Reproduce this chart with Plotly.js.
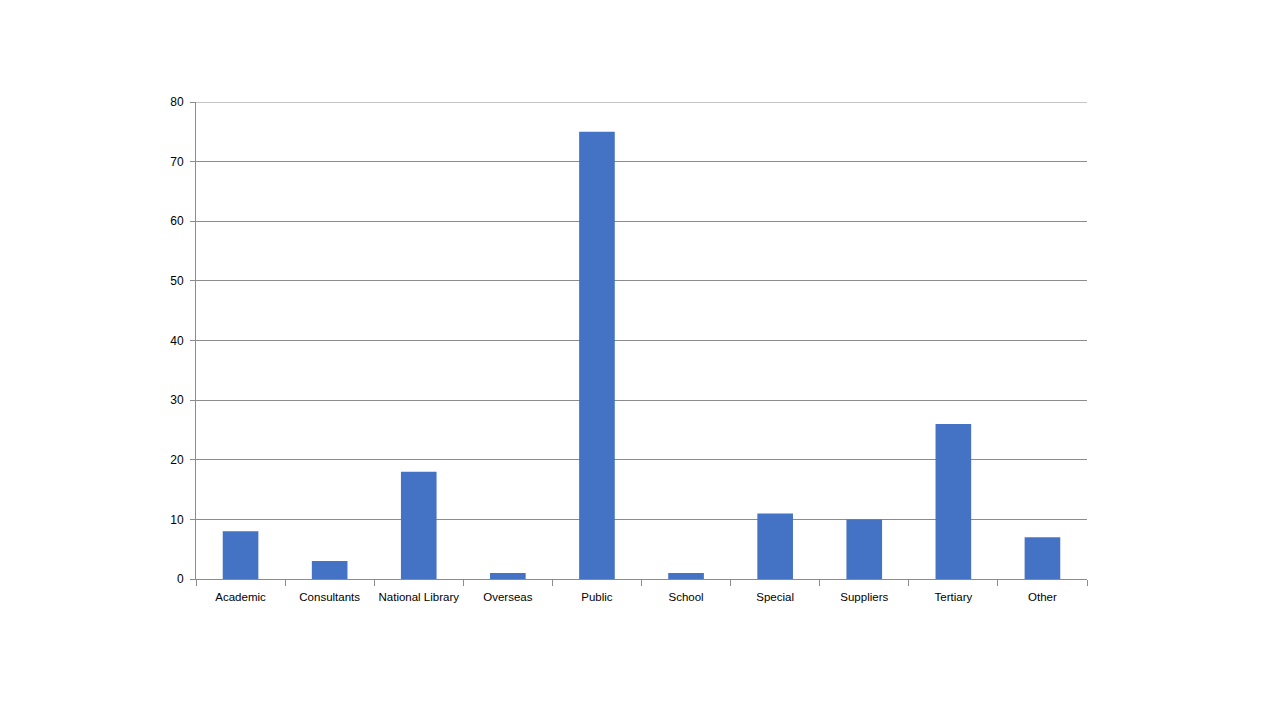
<!DOCTYPE html>
<html>
<head>
<meta charset="utf-8">
<script src="https://cdn.plot.ly/plotly-3.0.1.min.js"></script>
<style>
  html, body { margin: 0; padding: 0; background: #fff; }
  #chart { width: 1280px; height: 720px; }
</style>
</head>
<body>
<div id="chart"></div>
<script>
var categories = ['Academic', 'Consultants', 'National Library', 'Overseas', 'Public',
                  'School', 'Special', 'Suppliers', 'Tertiary', 'Other'];
var counts = [8, 3, 18, 1, 75, 1, 11, 10, 26, 7];
var yMax = 80;

var bars = {
  type: 'bar',
  x: categories,
  y: counts,
  marker: { color: '#4472C4' },
  hoverinfo: 'x+y'
};

var layout = {
  width: 1280,
  height: 720,
  margin: { l: 196, r: 193, t: 102, b: 141 },
  paper_bgcolor: '#fff',
  plot_bgcolor: '#fff',
  showlegend: false,
  bargap: 0.6,
  font: { family: 'Liberation Sans, Arial, sans-serif', size: 11, color: '#000' },
  xaxis: {
    type: 'category',
    showline: true,
    linecolor: '#8c8c8c',
    linewidth: 1,
    ticks: 'outside',
    tickson: 'boundaries',
    ticklen: 6,
    tickcolor: '#8c8c8c',
    showgrid: false,
    tickangle: 0,
    tickfont: { size: 11.5, color: '#000' },
    ticklabelstandoff: 7
  },
  yaxis: {
    range: [0, yMax],
    dtick: 10,
    showline: true,
    linecolor: '#8c8c8c',
    linewidth: 1,
    ticks: 'outside',
    ticklen: 5,
    tickcolor: '#8c8c8c',
    showgrid: true,
    gridcolor: '#8c8c8c',
    gridwidth: 1,
    zeroline: false,
    tickfont: { size: 12, color: '#000' },
    ticklabelstandoff: 4
  },
  // plotly skips the gridline on the plot edge, so draw the top one
  shapes: [{
    type: 'line',
    xref: 'paper', yref: 'y',
    x0: 0, x1: 1, y0: yMax, y1: yMax,
    line: { color: '#8c8c8c', width: 1 }
  }]
};

Plotly.newPlot('chart', [bars], layout, { displayModeBar: false, staticPlot: true });
</script>
</body>
</html>
